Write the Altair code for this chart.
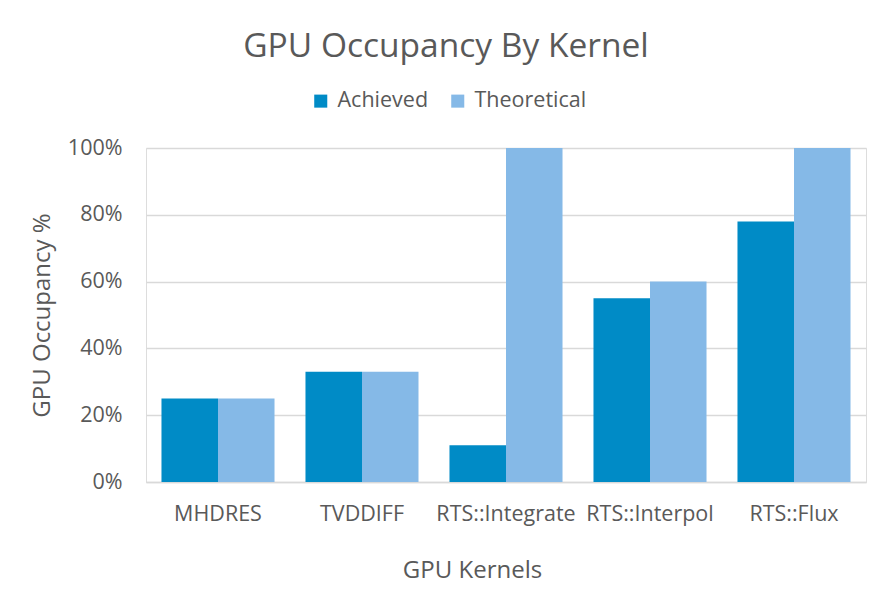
import altair as alt
import pandas as pd

kernels = ["MHDRES", "TVDDIFF", "RTS::Integrate", "RTS::Interpol", "RTS::Flux"]
achieved = [0.25, 0.33, 0.11, 0.55, 0.78]
theoretical = [0.25, 0.33, 1.00, 0.60, 1.00]
series = ["Achieved", "Theoretical"]
colors = ["#008BC6", "#85B9E7"]

rows = []
for k, a, t in zip(kernels, achieved, theoretical):
    rows.append({"kernel": k, "series": "Achieved", "value": a})
    rows.append({"kernel": k, "series": "Theoretical", "value": t})
df = pd.DataFrame(rows)

FONT = "Open Sans"
GREY = "#595959"

chart = alt.Chart(df).mark_bar().encode(
    x=alt.X("kernel:N", sort=kernels,
            scale=alt.Scale(paddingInner=0.215, paddingOuter=0.1075),
            axis=alt.Axis(title="GPU Kernels", labelAngle=0, labelFontSize=21.5,
                          labelColor=GREY, labelFont=FONT, labelPadding=21,
                          ticks=False, domainColor="#D9D9D9", domainWidth=1.5,
                          titleFontSize=24, titleColor=GREY, titleFont=FONT,
                          titleFontWeight="normal", titleX=326, titleY=88,
                          titleBaseline="middle", titleAnchor="middle")),
    xOffset=alt.XOffset("series:N", sort=series, scale=alt.Scale(paddingInner=0, paddingOuter=0)),
    y=alt.Y("value:Q", scale=alt.Scale(domain=[0, 1]),
            axis=alt.Axis(title="GPU Occupancy %", format=".0%", values=[0, 0.2, 0.4, 0.6, 0.8, 1.0],
                          labelFontSize=21.5, labelColor=GREY, labelFont=FONT, labelPadding=24,
                          ticks=False, domain=False, gridColor="#D9D9D9", gridWidth=1.5,
                          titleFontSize=24, titleColor=GREY, titleFont=FONT,
                          titleFontWeight="normal", titleX=-104, titleY=167,
                          titleBaseline="middle", titleAlign="center", titleAngle=-90)),
    color=alt.Color("series:N", sort=series,
                    scale=alt.Scale(domain=series, range=colors),
                    legend=alt.Legend(title=None, orient="none", direction="horizontal",
                                      legendX=164, legendY=-58, symbolType="square",
                                      symbolSize=170, symbolStrokeWidth=0, labelFontSize=21.5,
                                      labelColor=GREY, labelFont=FONT, labelOffset=6,
                                      columnPadding=18)),
).properties(
    width=720, height=334,
    title=alt.TitleParams("GPU Occupancy By Kernel", fontSize=33.5, font=FONT, color=GREY,
                          fontWeight="normal", anchor="middle", frame="group",
                          dx=-60, dy=0, offset=0, baseline="alphabetic"),
    autosize=alt.AutoSizeParams(type="none"),
    padding={"left": 138, "top": 140, "right": 18, "bottom": 105},
).configure_view(stroke=None).configure(background="white")

chart.save("out.html", embed_options={"renderer": "svg", "actions": False})
